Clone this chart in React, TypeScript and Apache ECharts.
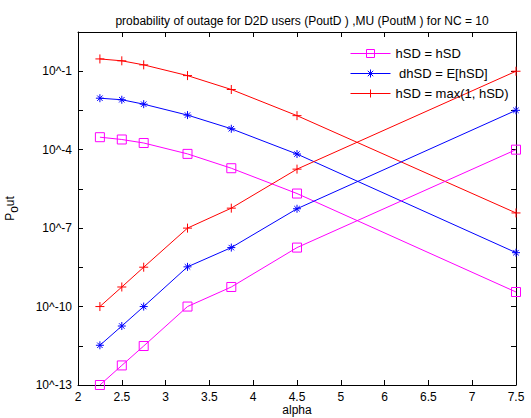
import React, { useEffect, useRef } from 'react';
import * as echarts from 'echarts';

// x positions of the markers (axis runs 2..7, labelled with the tick labels below)
const alpha = [2.25, 2.5, 2.75, 3.25, 3.75, 4.5, 7];
const xTickLabels = ['2', '2.5', '3', '3.5', '4', '4.5', '5', '6', '6.5', '7', '7.5'];
const yTickLabels = ['10^-13', '10^-10', '10^-7', '10^-4', '10^-1'];

const seriesNames = ['hSD = hSD', ' dhSD = E[hSD]', 'hSD = max(1, hSD)'];

// PoutD (decreasing) and PoutM (increasing) curves
const magentaD = [3.0e-4, 2.45e-4, 1.8e-4, 6.9e-5, 1.95e-5, 2.1e-6, 3.6e-10];
const magentaM = [1e-13, 5.6e-13, 3.1e-12, 1e-10, 5.6e-10, 1.8e-8, 1e-4];
const blueD = [9.3e-3, 8.1e-3, 5.5e-3, 2.1e-3, 6.3e-4, 6.8e-5, 1.15e-8];
const blueM = [3.3e-12, 1.8e-11, 1e-10, 3.3e-9, 1.8e-8, 5.5e-7, 3.2e-3];
const redD = [2.95e-1, 2.5e-1, 1.75e-1, 6.8e-2, 2.0e-2, 2.0e-3, 3.8e-7];
const redM = [1e-10, 5.6e-10, 3.2e-9, 1e-7, 5.8e-7, 1.8e-5, 1e-1];

const Y0 = -13; // log10 of the axis bottom

const toPts = (vals: number[]) => vals.map((v, i) => [alpha[i], Math.log10(v) - Y0]);

const FONT = 'Liberation Sans, Arial, Helvetica, sans-serif';
const MAGENTA = '#ff00ff';
const BLUE = '#0000ff';
const RED = '#ff0000';

const SQUARE = 'path://M0,0L10,0L10,10L0,10Z';
const STAR = 'path://M5,0L5,10M0,5L10,5M1.6,1.6L8.4,8.4M8.4,1.6L1.6,8.4';
const PLUS = 'path://M5,0L5,10M0,5L10,5';

function mk(name: string, data: number[], color: string, symbol: string, size: number) {
  return {
    type: 'line',
    name,
    data: toPts(data),
    symbol,
    symbolSize: size,
    showSymbol: true,
    lineStyle: { color, width: 1 },
    itemStyle: { color: 'transparent', borderColor: color, borderWidth: 1 },
    emphasis: { disabled: true },
    xAxisIndex: 0,
    yAxisIndex: 0,
  };
}

export default function App() {
  const ref = useRef<HTMLDivElement>(null);
  useEffect(() => {
    if (!ref.current) return;
    const chart = echarts.init(ref.current, undefined, { renderer: 'svg' });
    const axisLine = { show: true, onZero: false, lineStyle: { color: '#000', width: 1 } };
    const tick = { show: true, inside: true, length: 5, lineStyle: { color: '#000' } };
    chart.setOption({
      animation: false,
      backgroundColor: '#fff',
      textStyle: { fontFamily: FONT },
      title: {
        text: 'probability of outage for D2D users (PoutD ) ,MU (PoutM ) for NC = 10',
        left: 297,
        textAlign: 'center',
        top: 10,
        textStyle: { fontSize: 12, fontWeight: 'normal', color: '#000', fontFamily: FONT },
      },
      grid: { left: 78, right: 15, top: 32, bottom: 33, containLabel: false, outerBoundsMode: 'none' },
      legend: {
        data: seriesNames,
        orient: 'vertical',
        left: 345,
        top: 42,
        itemWidth: 40,
        itemHeight: 10,
        itemGap: 7,
        lineStyle: { width: 1 },
        itemStyle: { borderWidth: 1 },
        textStyle: { fontSize: 13, color: '#000', fontFamily: FONT },
        backgroundColor: 'transparent',
      },
      xAxis: [
        {
          type: 'value',
          min: 2,
          max: 7,
          interval: 0.5,
          axisLine,
          axisTick: tick,
          splitLine: { show: false },
          axisLabel: {
            color: '#000',
            fontSize: 12,
            fontFamily: FONT,
            margin: 6,
            formatter: (v: number) => xTickLabels[Math.round((v - 2) / 0.5)] ?? '',
          },
          name: 'alpha',
          nameLocation: 'middle',
          nameGap: 19,
          nameMoveOverlap: false,
          nameTextStyle: { color: '#000', fontSize: 12, fontFamily: FONT, lineHeight: 12 },
        },
        {
          type: 'value',
          position: 'top',
          min: 2,
          max: 7,
          interval: 0.5,
          axisLine,
          axisTick: tick,
          splitLine: { show: false },
          axisLabel: { show: false },
        },
      ],
      yAxis: [
        {
          type: 'value',
          min: 0,
          max: 13.5,
          interval: 1.5,
          axisLine,
          axisTick: tick,
          splitLine: { show: false },
          axisLabel: {
            color: '#000',
            fontSize: 12,
            fontFamily: FONT,
            margin: 6,
            formatter: (v: number) => {
              const k = Math.round(v / 3);
              if (Math.abs(v - k * 3) < 1e-6 && k < yTickLabels.length) return yTickLabels[k];
              return '';
            },
          },
          name: 'P{s|o}ut',
          nameLocation: 'middle',
          nameGap: 58,
          nameRotate: 90,
          nameMoveOverlap: false,
          nameTextStyle: {
            color: '#000',
            fontSize: 12,
            fontFamily: FONT,
            lineHeight: 20,
            rich: {
              s: { fontSize: 12, color: '#000', fontFamily: FONT, verticalAlign: 'bottom', lineHeight: 8, padding: [8, 0, 0, 0] },
            },
          },
        },
        {
          type: 'value',
          position: 'right',
          min: 0,
          max: 13.5,
          interval: 1.5,
          axisLine,
          axisTick: tick,
          splitLine: { show: false },
          axisLabel: { show: false },
        },
      ],
      series: [
        mk(seriesNames[0], magentaD, MAGENTA, SQUARE, 9),
        mk(seriesNames[1], blueD, BLUE, STAR, 8),
        mk(seriesNames[2], redD, RED, PLUS, 9),
        mk('PoutM hSD = hSD', magentaM, MAGENTA, SQUARE, 9),
        mk('PoutM dhSD = E[hSD]', blueM, BLUE, STAR, 8),
        mk('PoutM hSD = max(1, hSD)', redM, RED, PLUS, 9),
      ],
    });
    return () => chart.dispose();
  }, []);
  return <div ref={ref} style={{ width: 531, height: 418, position: 'absolute', left: 0, top: 0 }} />;
}
